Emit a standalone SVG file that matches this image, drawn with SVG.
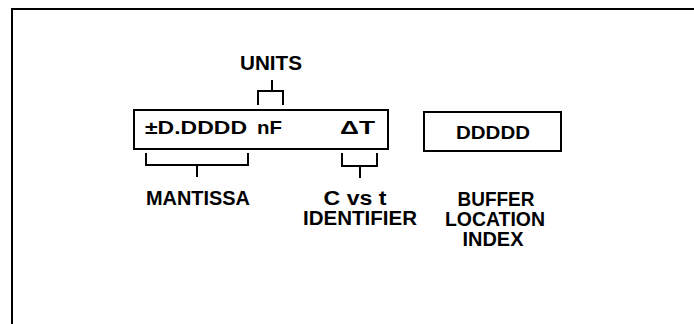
<svg xmlns="http://www.w3.org/2000/svg" width="694" height="324" viewBox="0 0 694 324">
<style>
.frame{fill:none;stroke:#000;stroke-width:2}
.box{fill:#fff;stroke:#000;stroke-width:2}
.br{fill:none;stroke:#000;stroke-width:2}
.lbl{font-family:"Liberation Sans",Arial,sans-serif;font-weight:bold;font-size:20px;fill:#000;text-anchor:middle}
.dsp{font-family:"Liberation Sans",Arial,sans-serif;font-weight:bold;font-size:18.5px;fill:#000}
</style>
<rect width="694" height="324" fill="#fff"/>
<path class="frame" d="M12,324 V9 H694"/>
<g id="display">
<rect class="box" x="134" y="110" width="254" height="39"/>
<text class="dsp" x="145" y="134" textLength="102" lengthAdjust="spacingAndGlyphs">±D.DDDD</text>
<text class="dsp" x="257" y="134" textLength="25" lengthAdjust="spacingAndGlyphs">nF</text>
<text class="dsp" x="340" y="134" textLength="35" lengthAdjust="spacingAndGlyphs">ΔT</text>
</g>
<g id="buffer">
<rect class="box" x="424" y="112" width="137" height="39"/>
<text class="dsp" x="456" y="139" textLength="74" lengthAdjust="spacingAndGlyphs">DDDDD</text>
</g>
<g id="units"><text class="lbl" x="271" y="70" textLength="62" lengthAdjust="spacingAndGlyphs">UNITS</text></g>
<g id="mantissa"><text class="lbl" x="198" y="205" textLength="104" lengthAdjust="spacingAndGlyphs">MANTISSA</text></g>
<g id="identifier">
<text class="lbl" x="355" y="205" textLength="63" lengthAdjust="spacingAndGlyphs">C vs t</text>
<text class="lbl" x="360" y="225" textLength="114" lengthAdjust="spacingAndGlyphs">IDENTIFIER</text>
</g>
<g id="buffer-label">
<text class="lbl" x="496" y="206" textLength="77" lengthAdjust="spacingAndGlyphs">BUFFER</text>
<text class="lbl" x="495" y="226" textLength="100" lengthAdjust="spacingAndGlyphs">LOCATION</text>
<text class="lbl" x="493" y="246" textLength="61" lengthAdjust="spacingAndGlyphs">INDEX</text>
</g>
<g id="connectors">
<path class="br" d="M272,80 V91 M258,105 V91 H283 V105"/>
<path class="br" d="M146,153 V165 H248 V153 M197,165 V177"/>
<path class="br" d="M342,153 V166 H377 V153 M360,166 V178"/>
</g>
</svg>
